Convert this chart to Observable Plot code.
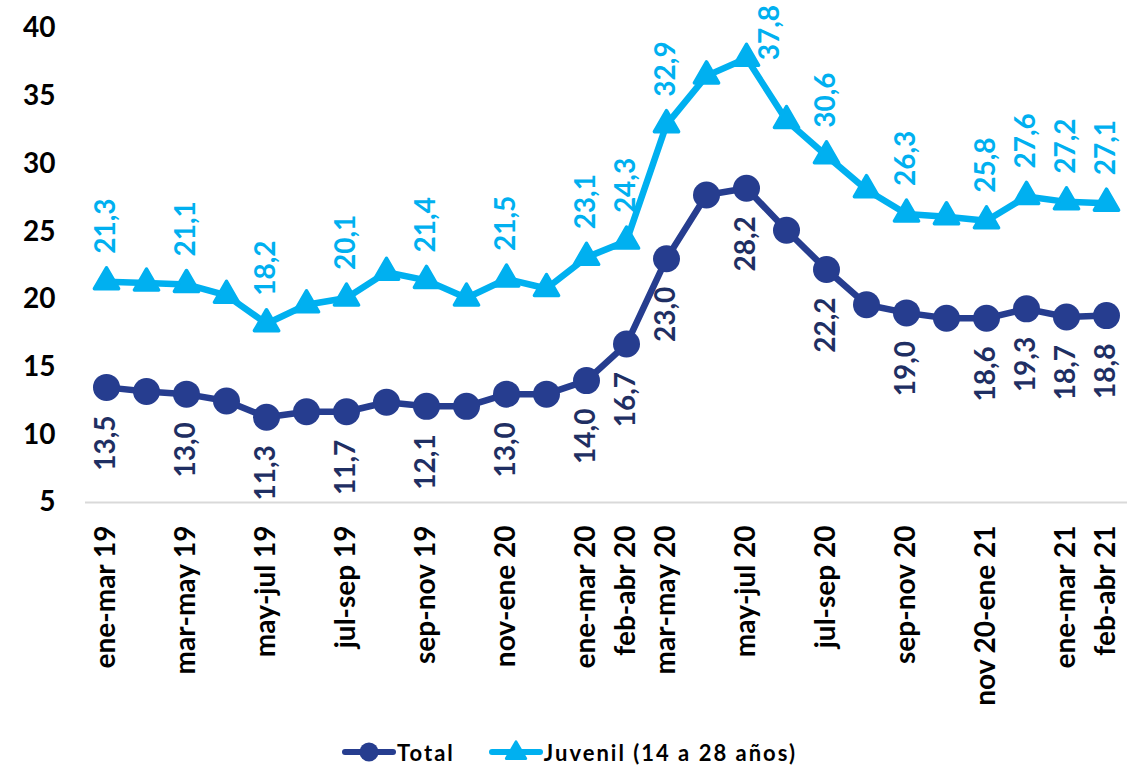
<!DOCTYPE html>
<html>
<head>
<meta charset="utf-8">
<script src="https://cdn.jsdelivr.net/npm/d3@7"></script>
<script src="https://cdn.jsdelivr.net/npm/@observablehq/plot@0.6"></script>
<style>
  body { margin: 0; background: #fff; font-family: Lato, "Open Sans", sans-serif; }
  #chart { width: 1139px; }
  .legend { display: flex; justify-content: center; align-items: center; height: 60px; width: 1139px;
            font-family: Lato, sans-serif; font-weight: 700; font-size: 22px; letter-spacing: 2px; color: #000; }
  .item { display: flex; align-items: center; }
  .item svg { display: block; margin-right: 1px; }
</style>
</head>
<body>
<div id="chart"></div>
<div class="legend" id="legend"></div>
<script>
const periods = [
  "ene-mar 19","feb-abr 19","mar-may 19","abr-jun 19","may-jul 19","jun-ago 19",
  "jul-sep 19","ago-oct 19","sep-nov 19","oct-dic 19","nov-ene 20","dic-feb 20",
  "ene-mar 20","feb-abr 20","mar-may 20","abr-jun 20","may-jul 20","jun-ago 20",
  "jul-sep 20","ago-oct 20","sep-nov 20","oct-dic 20","nov 20-ene 21","dic 20-feb 21",
  "ene-mar 21","feb-abr 21"
];
const total = [13.5,13.2,13.0,12.5,11.3,11.7,11.7,12.4,12.1,12.1,13.0,13.0,14.0,16.7,23.0,27.7,28.2,25.1,22.2,19.6,19.0,18.6,18.6,19.3,18.7,18.8];
const juvenil = [21.3,21.2,21.1,20.3,18.2,19.6,20.1,22.0,21.4,20.1,21.5,20.8,23.1,24.3,32.9,36.5,37.8,33.2,30.6,28.1,26.3,26.1,25.8,27.6,27.2,27.1];
const tickLabels = [
  "ene-mar 19","mar-may 19","may-jul 19","jul-sep 19","sep-nov 19","nov-ene 20",
  "ene-mar 20","feb-abr 20","mar-may 20","may-jul 20","jul-sep 20","sep-nov 20",
  "nov 20-ene 21","ene-mar 21","feb-abr 21"
];
const labeledPeriods = [
  "ene-mar 19","mar-may 19","may-jul 19","jul-sep 19","sep-nov 19","nov-ene 20",
  "ene-mar 20","feb-abr 20","mar-may 20","may-jul 20","jul-sep 20","sep-nov 20",
  "nov 20-ene 21","dic 20-feb 21","ene-mar 21","feb-abr 21"
];
const yTicks = [5,10,15,20,25,30,35,40];
const seriesNames = ["Total", "Juvenil (14 a 28 años)"];
const colors = { total: "#263D8F", totalLabel: "#1F2F63", juvenil: "#00B0F0" };

const fmt = v => v.toFixed(1).replace(".", ",");
const rows = periods.map((p, i) => ({ p, total: total[i], juvenil: juvenil[i] }));
const lab = rows.filter(d => labeledPeriods.includes(d.p));
const peakJ = d3.max(juvenil);

const FONT = "Lato, sans-serif";
const chart = Plot.plot({
  width: 1139,
  height: 722,
  marginLeft: 85,
  marginRight: 12,
  marginTop: 28,
  marginBottom: 220,
  style: { fontFamily: FONT, fontSize: "28px", fontWeight: "bold", color: "#000", background: "#fff" },
  x: { type: "point", domain: periods, padding: 0.5 },
  y: { domain: [5, 40] },
  marks: [
    Plot.axisY(yTicks, { tickSize: 0, tickPadding: 30, fontSize: 28, fontWeight: "bold", label: null, fill: "#000" }),
    Plot.axisX(tickLabels, { tickSize: 0, tickPadding: 23, tickRotate: -90, fontSize: 28, fontWeight: "bold", label: null, fill: "#000" }),
    Plot.ruleY([5], { stroke: "#d9d9d9", strokeWidth: 2 }),
    Plot.line(rows, { x: "p", y: "total", stroke: colors.total, strokeWidth: 6.5 }),
    Plot.dot(rows, { x: "p", y: "total", r: 13.5, fill: colors.total, symbol: "circle" }),
    Plot.line(rows, { x: "p", y: "juvenil", stroke: colors.juvenil, strokeWidth: 6.5 }),
    Plot.dot(rows, { x: "p", y: "juvenil", r: 9, symbol: "triangle", fill: colors.juvenil,
                     stroke: colors.juvenil, strokeWidth: 3.5, strokeLinejoin: "round" }),
    Plot.text(lab, { x: "p", y: "total", text: d => fmt(d.total), rotate: -90, textAnchor: "end",
                     dy: 28, fill: colors.totalLabel, fontSize: 28, fontWeight: "bold" }),
    Plot.text(lab.filter(d => d.juvenil !== peakJ), { x: "p", y: "juvenil", text: d => fmt(d.juvenil), rotate: -90,
                     textAnchor: "start", dy: -28, fill: colors.juvenil, fontSize: 28, fontWeight: "bold" }),
    Plot.text(lab.filter(d => d.juvenil === peakJ), { x: "p", y: "juvenil", text: d => fmt(d.juvenil), rotate: -90,
                     textAnchor: "start", dx: 24, dy: 2, fill: colors.juvenil, fontSize: 28, fontWeight: "bold" })
  ]
});
document.getElementById("chart").appendChild(chart);

// Legend
const legend = d3.select("#legend");
const items = [
  { name: seriesNames[0], color: colors.total, shape: "circle" },
  { name: seriesNames[1], color: colors.juvenil, shape: "triangle" }
];
items.forEach((it, k) => {
  const div = legend.append("div").attr("class", "item").style("margin-left", k ? "34px" : "0px");
  const svg = div.append("svg").attr("width", 54).attr("height", 30);
  svg.append("line").attr("x1", 3).attr("x2", 51).attr("y1", 15).attr("y2", 15)
    .attr("stroke", it.color).attr("stroke-width", 6).attr("stroke-linecap", "round");
  if (it.shape === "circle") {
    svg.append("circle").attr("cx", 27).attr("cy", 15).attr("r", 9.5).attr("fill", it.color);
  } else {
    svg.append("path").attr("transform", "translate(27,16)")
      .attr("d", d3.symbol(d3.symbolTriangle, 160)())
      .attr("fill", it.color).attr("stroke", it.color).attr("stroke-width", 3).attr("stroke-linejoin", "round");
  }
  div.append("span").text(it.name);
});
</script>
</body>
</html>
